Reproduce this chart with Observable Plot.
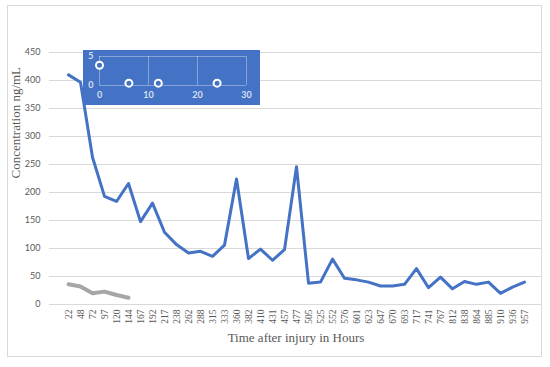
<!DOCTYPE html>
<html>
<head>
<meta charset="utf-8">
<script src="https://cdn.jsdelivr.net/npm/d3@7"></script>
<script src="https://cdn.jsdelivr.net/npm/@observablehq/plot@0.6"></script>
<style>
  html, body { margin: 0; padding: 0; background: #fff; }
  #wrap { position: relative; width: 550px; height: 367px; overflow: hidden; }
  #frame { position: absolute; left: 7px; top: 5px; width: 535px; height: 352px; border: 1px solid #d9d9d9; box-sizing: border-box; }
  #main { position: absolute; left: 0; top: 0; }
  #inset { position: absolute; left: 83px; top: 50px; }
</style>
</head>
<body>
<div id="wrap"><div id="frame"></div><div id="main"></div><div id="inset"></div></div>
<script>
const hours = [22, 48, 72, 97, 120, 144, 167, 192, 217, 238, 262, 288, 315, 333, 360, 382, 410, 431, 457, 477, 505, 525, 552, 576, 601, 623, 647, 670, 693, 717, 741, 767, 812, 838, 864, 885, 910, 936, 957];
const concentration = [410, 397, 263, 193, 184, 216, 148, 181, 129, 107, 92, 95, 86, 106, 224, 82, 99, 79, 98, 246, 38, 40, 81, 47, 44, 40, 33, 33, 36, 64, 30, 49, 28, 41, 36, 40, 20, 31, 40];
const grayHours = [22, 48, 72, 97, 120, 144];
const grayConcentration = [36, 32, 20, 23, 17, 12];
const yTicks = [0, 50, 100, 150, 200, 250, 300, 350, 400, 450];

const insetX = [0, 6, 12, 24];
const insetY = [3.5, 0.4, 0.4, 0.4];
const insetXTicks = [0, 10, 20, 30];
const insetYTicks = [0, 5];

const blueData = hours.map((h, i) => ({h: String(h), v: concentration[i]}));
const grayData = grayHours.map((h, i) => ({h: String(h), v: grayConcentration[i]}));

const main = Plot.plot({
  width: 550,
  height: 367,
  marginLeft: 49,
  marginRight: 8,
  marginTop: 52,
  marginBottom: 63,
  style: {fontFamily: "Lato, 'Open Sans', sans-serif", fontSize: "9px", color: "#595959", background: "transparent"},
  x: {type: "point", domain: hours.map(String), padding: 0.5, label: null},
  y: {domain: [0, 450], label: null},
  marks: [
    Plot.ruleY(yTicks, {stroke: "#d9d9d9", strokeWidth: 1}),
    Plot.axisY({ticks: yTicks, tickSize: 0, tickPadding: 9, fontSize: 9, fill: "#595959"}),
    Plot.axisX({tickSize: 0, tickPadding: 5, tickRotate: -90, fontSize: 9.5, fontFamily: "'Liberation Serif', serif", fill: "#595959"}),
    Plot.line(grayData, {x: "h", y: "v", stroke: "#a6a6a6", strokeWidth: 4, strokeLinejoin: "round", strokeLinecap: "round"}),
    Plot.line(blueData, {x: "h", y: "v", stroke: "#4472c4", strokeWidth: 3, strokeLinejoin: "round"}),
    Plot.text(["Concentration ng/mL"], {frameAnchor: "left", dx: -34, rotate: -90, fontFamily: "'Liberation Serif', serif", fontSize: 13, fill: "#595959"}),
    Plot.text(["Time after injury in Hours"], {frameAnchor: "bottom", dy: 37, fontFamily: "'Liberation Serif', serif", fontSize: 13, fill: "#595959"})
  ]
});
document.getElementById("main").appendChild(main);

const inset = Plot.plot({
  width: 177,
  height: 55,
  marginLeft: 16,
  marginRight: 14,
  marginTop: 6,
  marginBottom: 20,
  style: {fontFamily: "Lato, 'Open Sans', sans-serif", fontSize: "9px", background: "#4472c4", color: "#d6e0f3"},
  x: {domain: [0, 30], label: null},
  y: {domain: [0, 5], label: null},
  marks: [
    Plot.ruleX(insetXTicks, {stroke: "#ffffff", strokeOpacity: 0.35}),
    Plot.ruleY(insetYTicks, {stroke: "#ffffff", strokeOpacity: 0.35}),
    Plot.axisX({ticks: insetXTicks, tickFormat: "d", tickSize: 0, tickPadding: 6, fill: "#d6e0f3", fontWeight: "bold", fontSize: 9}),
    Plot.axisY({ticks: insetYTicks, tickFormat: "d", tickSize: 0, tickPadding: 6, fill: "#d6e0f3", fontWeight: "bold", fontSize: 9}),
    Plot.dot(insetX.map((x, i) => ({x, y: insetY[i]})), {x: "x", y: "y", r: 3.5, fill: "#4472c4", stroke: "#ffffff", strokeWidth: 2})
  ]
});
document.getElementById("inset").appendChild(inset);
</script>
</body>
</html>
